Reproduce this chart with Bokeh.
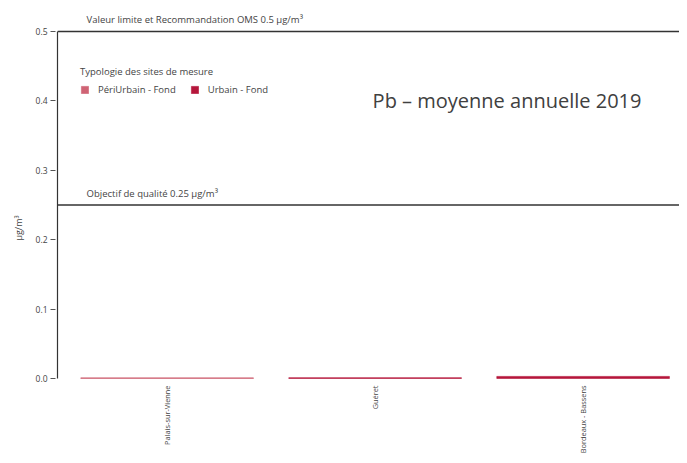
import math
from bokeh.plotting import figure
from bokeh.models import (ColumnDataSource, Range1d, FixedTicker, PrintfTickFormatter,
                          Span, Label)
from bokeh.core.properties import value
from bokeh.embed import file_html
from bokeh.resources import INLINE

# ---- data ----
sites = ["Palais-sur-Vienne", "Guéret", "Bordeaux - Bassens"]
values = [0.001, 0.0012, 0.003]
types = ["PériUrbain - Fond", "Urbain - Fond", "Urbain - Fond"]
type_names = ["PériUrbain - Fond", "Urbain - Fond"]
type_colors = ["#cf6374", "#b5163b"]
y_ticks = [0.0, 0.1, 0.2, 0.3, 0.4, 0.5]
limit_value = 0.5
objective_value = 0.25
limit_text = "Valeur limite et Recommandation OMS 0.5 µg/m³"
objective_text = "Objectif de qualité 0.25 µg/m³"
title_text = "Pb – moyenne annuelle 2019"
legend_title = "Typologie des sites de mesure"
y_label = "µg/m³"

FONT = "Open Sans"
TXT = "#444444"

W, H = 679, 455
PX_PER_Y = 694.0
idx = list(range(len(sites)))
colors = [type_colors[type_names.index(t)] for t in types]
src = ColumnDataSource(dict(x=idx, top=values, site=sites, type=types, color=colors,
                            ylab=[-7.0 / PX_PER_Y] * len(sites)))

p = figure(width=W, height=H, output_backend="svg", toolbar_location=None,
           x_range=Range1d(-0.527, -0.527 + (W - 57) / 208.0),
           y_range=Range1d(-(H - 378) / PX_PER_Y, 0.5 + 31 / PX_PER_Y),
           x_axis_location=None, min_border_left=57, min_border_top=0,
           min_border_bottom=0, min_border_right=0)
p.outline_line_color = None
p.grid.visible = False
p.background_fill_color = "white"
p.border_fill_color = "white"

bars = p.vbar(x="x", top="top", bottom=0, width=0.83, source=src,
              fill_color="color", line_color="color", line_width=0.6,
              legend_field="type")

# y axis
ax = p.yaxis[0]
ax.bounds = (0, 0.5)
ax.ticker = FixedTicker(ticks=y_ticks)
ax.formatter = PrintfTickFormatter(format="%.1f")
ax.axis_line_color = "#333333"
ax.axis_line_width = 1.2
ax.major_tick_line_color = "#555555"
ax.major_tick_in = -2
ax.major_tick_out = 7
ax.minor_tick_line_color = None
ax.major_label_text_font = FONT
ax.major_label_text_font_size = "8.5px"
ax.major_label_text_color = TXT
ax.major_label_standoff = 3
ax.axis_label = y_label
ax.axis_label_text_font = FONT
ax.axis_label_text_font_style = "normal"
ax.axis_label_text_font_size = "9px"
ax.axis_label_text_color = TXT
ax.axis_label_standoff = 8

# reference lines
p.add_layout(Span(location=limit_value, dimension="width", line_color="#333333", line_width=1.5))
p.add_layout(Span(location=objective_value, dimension="width", line_color="#333333", line_width=1.5))

p.add_layout(Label(x=-0.387, y=limit_value, y_offset=12, text=limit_text,
                   text_font=FONT, text_font_size="9.5px", text_color=TXT,
                   text_baseline="alphabetic"))
p.add_layout(Label(x=-0.387, y=objective_value, y_offset=12, text=objective_text,
                   text_font=FONT, text_font_size="9.5px", text_color=TXT,
                   text_baseline="alphabetic"))
p.add_layout(Label(x=0.988, y=0.40, text=title_text, text_font=FONT,
                   text_font_size="20px", text_color="#404040", text_baseline="middle"))

# x category labels
p.text(x="x", y="ylab", text="site", source=src, angle=math.pi / 2,
       text_align="right", text_baseline="middle", text_font=value(FONT),
       text_font_size="7.4px", text_color=TXT)

# legend
leg = p.legend[0]
leg.title = legend_title
leg.title_text_font = FONT
leg.title_text_font_size = "9.5px"
leg.title_text_font_style = "normal"
leg.title_text_color = TXT
leg.title_standoff = 5
leg.orientation = "horizontal"
leg.location = (23, H - 96)
leg.padding = 0
leg.margin = 0
leg.spacing = 14
leg.label_standoff = 9
leg.glyph_width = 9
leg.glyph_height = 9
leg.label_height = 9
leg.label_text_font = FONT
leg.label_text_font_size = "9.5px"
leg.label_text_color = TXT
leg.border_line_color = None
leg.background_fill_alpha = 0

open("out.html", "w").write(file_html(p, INLINE))
